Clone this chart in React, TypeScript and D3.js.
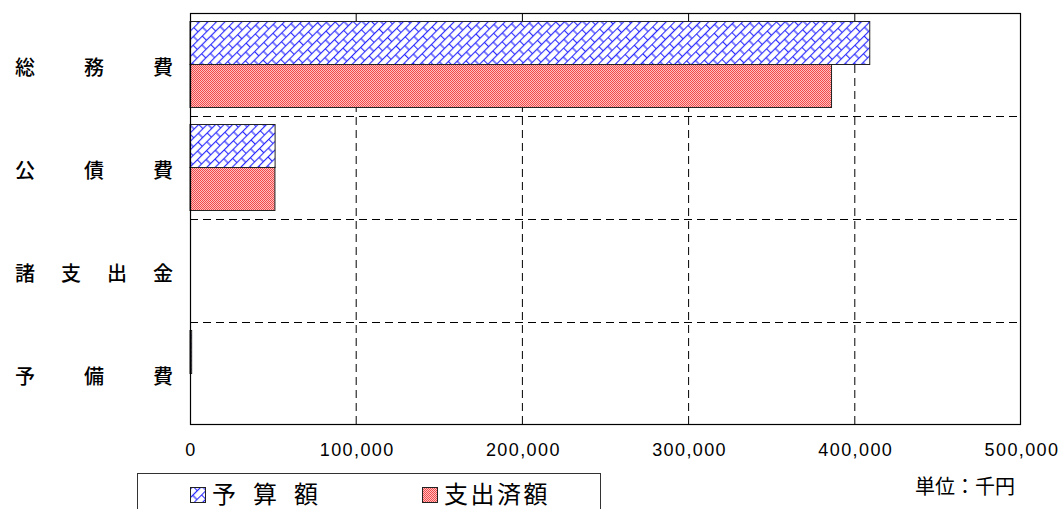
import React from "react";
import * as d3 from "d3";

const categories = ["総務費", "公債費", "諸支出金", "予備費"];
const budget = [409000, 51200, 0, 1000];
const spent = [386000, 51100, 0, 0];
const seriesNames = ["予算額", "支出済額"];
const xTicks = [0, 100000, 200000, 300000, 400000, 500000];
const unitLabel = "単位：千円";

const W = 1062;
const H = 509;
const M = { left: 190, right: 1021, top: 13, bottom: 425 };

export default function App() {
  const x = d3.scaleLinear().domain([0, 500000]).range([M.left, M.right]);
  const y = d3
    .scaleBand<string>()
    .domain(categories)
    .range([M.top, M.bottom])
    .paddingInner(0.165)
    .paddingOuter(0.0825);
  const sub = d3.scaleBand<string>().domain(seriesNames).range([0, y.bandwidth()]);
  const step = y.step();
  const fmt = d3.format(",");
  const font = "'Noto Sans CJK JP', 'Noto Sans', sans-serif";
  const numFont = "'Liberation Sans', Arial, sans-serif";

  const series = [
    { name: seriesNames[0], values: budget, fill: "url(#patBlue)" },
    { name: seriesNames[1], values: spent, fill: "url(#patRed)" },
  ];

  const separators = categories.slice(1).map((_, i) => M.top + step * (i + 1));

  return (
    <svg width={W} height={H} style={{ position: "absolute", left: 0, top: 0, background: "#fff" }}>
      <defs>
        <pattern id="patBlue" width="13" height="12" patternUnits="userSpaceOnUse" patternTransform="rotate(-45)">
          <rect width="13" height="12" fill="#fff" />
          <line x1="0" y1="0.5" x2="13" y2="0.5" stroke="#2a2aff" strokeWidth="1.2" />
          <line x1="0" y1="6.5" x2="13" y2="6.5" stroke="#2a2aff" strokeWidth="1.2" />
          <line x1="0.5" y1="0" x2="0.5" y2="6.5" stroke="#2a2aff" strokeWidth="1.2" />
          <line x1="7" y1="6.5" x2="7" y2="12" stroke="#2a2aff" strokeWidth="1.2" />
        </pattern>
        <pattern id="patRed" width="2" height="2" patternUnits="userSpaceOnUse">
          <rect width="2" height="2" fill="#ffc0c0" />
          <rect width="1" height="1" fill="#f24a4a" />
          <rect x="1" y="1" width="1" height="1" fill="#f24a4a" />
        </pattern>
      </defs>

      {xTicks.slice(1, -1).map((t) => (
        <line key={t} x1={x(t)} x2={x(t)} y1={M.top} y2={M.bottom} stroke="#000" strokeWidth={1} strokeDasharray="8,5" />
      ))}
      {separators.map((s, i) => (
        <line key={i} x1={M.left} x2={M.right} y1={Math.round(s) + 0.5} y2={Math.round(s) + 0.5} stroke="#000" strokeWidth={1} strokeDasharray="8,5" />
      ))}

      {categories.map((c, i) =>
        series.map((s) => {
          const v = s.values[i];
          if (v <= 0) return null;
          const y0 = (y(c) as number) + (sub(s.name) as number);
          return (
            <rect
              key={c + s.name}
              x={x(0)}
              y={y0}
              width={x(v) - x(0)}
              height={sub.bandwidth()}
              fill={s.fill}
              stroke="#222"
              strokeWidth={1}
            />
          );
        })
      )}

      <rect x={M.left + 0.5} y={M.top + 0.5} width={M.right - M.left - 1} height={M.bottom - M.top - 1} fill="none" stroke="#000" strokeWidth={1.2} />

      {categories.map((c) => {
        const chars = Array.from(c);
        const cy = (y(c) as number) + y.bandwidth() / 2 + 2;
        const startX = 25;
        const endX = 163;
        return chars.map((ch, j) => {
          const cx = chars.length === 1 ? startX : startX + ((endX - startX) * j) / (chars.length - 1);
          return (
            <text key={c + j} x={cx} y={cy} textAnchor="middle" dominantBaseline="central" fontFamily={font} fontSize={20} fontWeight={500} fill="#000">
              {ch}
            </text>
          );
        });
      })}

      {xTicks.map((t) => (
        <text key={t} x={x(t) + 1} y={456} textAnchor="middle" fontFamily={numFont} fontSize={18} letterSpacing={1.4} fill="#000">
          {fmt(t)}
        </text>
      ))}

      <text x={915} y={494} fontFamily={font} fontSize={20} fill="#000">
        {unitLabel}
      </text>

      <rect x={137.5} y={473.5} width={463} height={50} fill="#fff" stroke="#333" strokeWidth={1} />
      <rect x={190.5} y={487.5} width={15} height={15} fill="url(#patBlue)" stroke="#222" strokeWidth={1} />
      <text x={212} y={492} dominantBaseline="central" fontFamily={font} fontSize={24} letterSpacing={17} fill="#000">
        {seriesNames[0]}
      </text>
      <rect x={422.5} y={487.5} width={15} height={15} fill="url(#patRed)" stroke="#222" strokeWidth={1} />
      <text x={444} y={492} dominantBaseline="central" fontFamily={font} fontSize={24} letterSpacing={2.5} fill="#000">
        {seriesNames[1]}
      </text>
    </svg>
  );
}
